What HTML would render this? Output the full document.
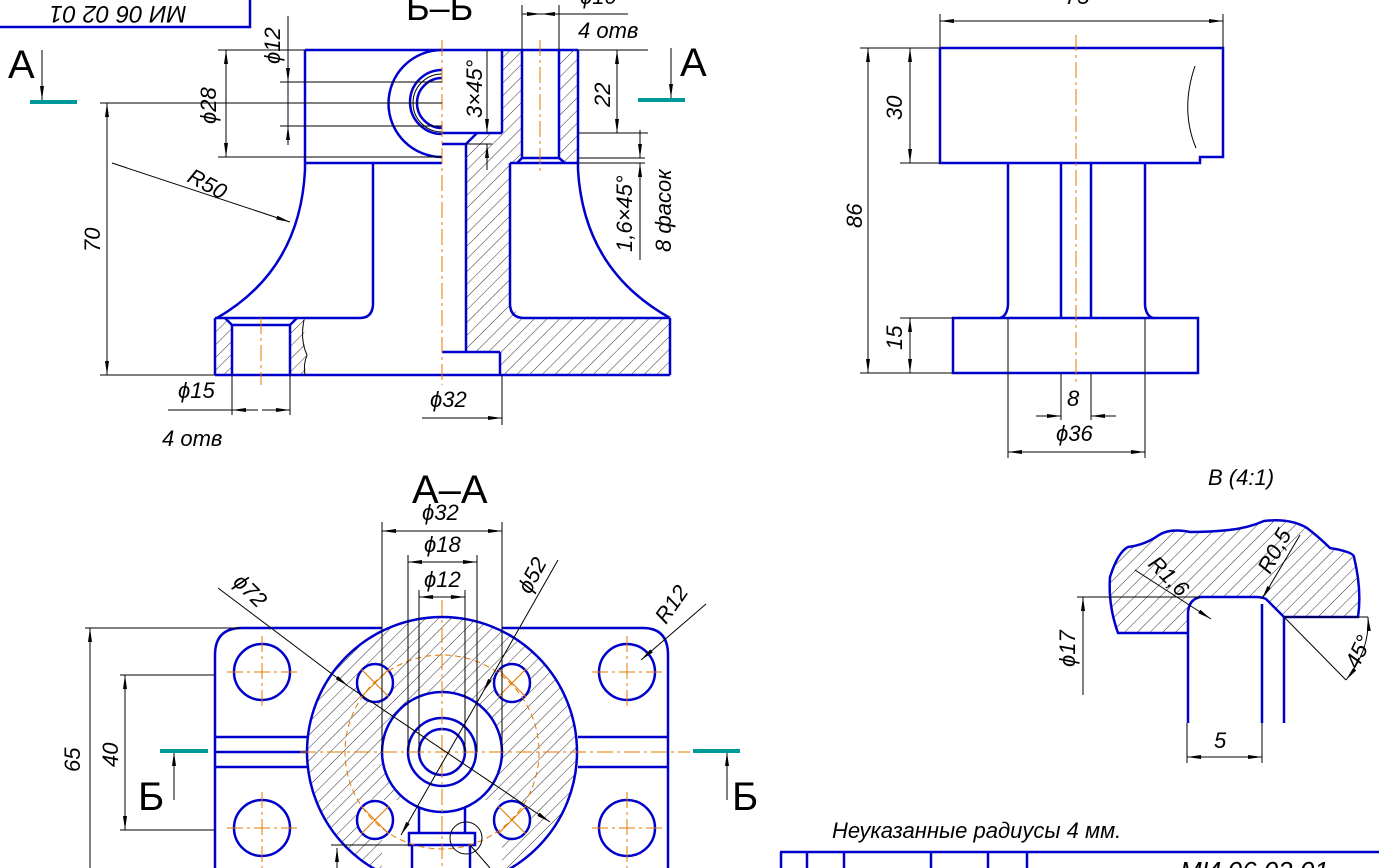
<!DOCTYPE html>
<html><head><meta charset="utf-8"><style>
html,body{margin:0;padding:0;background:#fff;width:1379px;height:868px;overflow:hidden}
svg{display:block}
text{font-family:"Liberation Sans",sans-serif;font-style:italic;fill:#000}
text.n{font-style:normal}
.b{fill:none;stroke:#0000cc;stroke-width:2.5}
.t{fill:none;stroke:#000;stroke-width:1}
.c{fill:none;stroke:#e07800;stroke-width:1;stroke-dasharray:16 4 3 4}
.h{fill:url(#hatch);stroke:none}
.tl{stroke:#009999;stroke-width:4}
</style></head><body>
<svg width="1379" height="868" viewBox="0 0 1379 868" xmlns="http://www.w3.org/2000/svg">
<defs>
<pattern id="hatch" patternUnits="userSpaceOnUse" width="9" height="9" patternTransform="rotate(45)">
<line x1="0" y1="0" x2="0" y2="9" stroke="#000" stroke-width="0.8"/>
</pattern>
<marker id="a" viewBox="0 0 14 4" refX="14" refY="2" markerWidth="14" markerHeight="4" orient="auto-start-reverse" markerUnits="userSpaceOnUse">
<path d="M0,0 L14,2 L0,4z" fill="#000"/></marker>
</defs>

<!-- stamp box -->
<polyline class="b" points="0,27 250,27 250,0"/>
<text x="118" y="6" font-size="24" text-anchor="middle" transform="rotate(180 118 6)">МИ 06 02 01</text>

<!-- Section markers A -->
<line class="tl" x1="30" y1="102" x2="77" y2="102"/>
<line class="tl" x1="638" y1="100" x2="685" y2="100"/>
<line class="t" x1="42" y1="50" x2="42" y2="100" marker-end="url(#a)"/>
<line class="t" x1="671" y1="48" x2="671" y2="98" marker-end="url(#a)"/>
<text class="n" x="8" y="78" font-size="40">A</text>
<text class="n" x="680" y="76" font-size="40">A</text>

<!-- ========== Section Б-Б ========== -->
<text class="n" x="406" y="20" font-size="36">Б–Б</text>
<polygon class="h" points="502,50 522,50 522,158 517,163 510,163 510,305 522,318 670,318 670,375 500,375 500,352 466,352 466,144 477,133 502,133"/>
<polygon class="h" points="559,50 578,50 578,163 565,163 559,158"/>
<polygon class="h" points="215,318 225,318 232,325 232,375 215,375"/>
<polygon class="h" points="297,318 305,318 304,340 307,360 305,375 290,375 290,325"/>
<g class="b">
<line x1="305" y1="50" x2="578" y2="50"/>
<line x1="305" y1="50" x2="305" y2="170"/>
<line x1="305" y1="163" x2="442" y2="163"/>
<path d="M305,170 Q300,270 217,318"/>
<line x1="373" y1="163" x2="373" y2="305"/>
<path d="M373,305 Q372,318 360,318"/>
<line x1="215" y1="318" x2="360" y2="318"/>
<line x1="215" y1="318" x2="215" y2="375"/>
<line x1="215" y1="375" x2="670" y2="375"/>
<line x1="225" y1="318" x2="232" y2="325"/><line x1="297" y1="318" x2="290" y2="325"/>
<line x1="232" y1="325" x2="290" y2="325"/>
<line x1="232" y1="325" x2="232" y2="375"/><line x1="290" y1="325" x2="290" y2="375"/>
<path d="M442,50 A53,53 0 0 0 442,157"/>
<path d="M442,70 A32,32 0 0 0 442,134"/>
<path d="M442,78 A25,25 0 0 0 442,128"/>
<line x1="442" y1="133" x2="502" y2="133"/>
<line x1="502" y1="50" x2="502" y2="133"/>
<line x1="442" y1="144" x2="466" y2="144"/>
<line x1="466" y1="144" x2="477" y2="133"/>
<line x1="466" y1="144" x2="466" y2="352"/>
<line x1="442" y1="352" x2="500" y2="352"/><line x1="500" y1="352" x2="500" y2="375"/>
<line x1="522" y1="50" x2="522" y2="158"/><line x1="559" y1="50" x2="559" y2="158"/>
<line x1="522" y1="158" x2="559" y2="158"/>
<line x1="522" y1="158" x2="517" y2="163"/><line x1="559" y1="158" x2="565" y2="163"/>
<line x1="510" y1="163" x2="578" y2="163"/>
<line x1="578" y1="50" x2="578" y2="170"/>
<path d="M578,170 Q584,270 670,318"/>
<line x1="510" y1="163" x2="510" y2="305"/>
<path d="M510,305 Q511,318 524,318"/>
<line x1="524" y1="318" x2="670" y2="318"/>
<line x1="670" y1="318" x2="670" y2="375"/>
</g>
<path class="t" d="M304,320 Q300,340 307,355 Q303,365 305,375" fill="none"/>
<path class="t" d="M442,74 A29,29 0 0 0 442,132"/>
<line class="c" x1="442" y1="40" x2="442" y2="385"/>
<line class="c" x1="261" y1="318" x2="261" y2="385"/>
<line class="c" x1="540" y1="40" x2="540" y2="175"/>
<!-- dims Б-Б -->
<g class="t">
<line x1="100" y1="103" x2="442" y2="103"/>
<line x1="100" y1="375" x2="215" y2="375"/>
<line x1="107" y1="103" x2="107" y2="375" marker-start="url(#a)" marker-end="url(#a)"/>
<line x1="218" y1="50" x2="305" y2="50"/>
<line x1="218" y1="157" x2="442" y2="157"/>
<line x1="226" y1="50" x2="226" y2="157" marker-start="url(#a)" marker-end="url(#a)"/>
<line x1="280" y1="82" x2="442" y2="82"/>
<line x1="280" y1="126" x2="442" y2="126"/>
<line x1="288" y1="16" x2="288" y2="82" marker-end="url(#a)"/>
<line x1="288" y1="126" x2="288" y2="145" marker-start="url(#a)"/>
<line x1="288" y1="82" x2="288" y2="126"/>
<line x1="112" y1="163" x2="290" y2="222" marker-end="url(#a)"/>
<line x1="487" y1="50" x2="487" y2="133" marker-end="url(#a)"/>
<line x1="487" y1="144" x2="487" y2="170" marker-start="url(#a)"/>
<line x1="492" y1="144" x2="466" y2="144"/>
<line x1="522" y1="5" x2="522" y2="50"/><line x1="559" y1="5" x2="559" y2="50"/>
<line x1="522" y1="14" x2="541" y2="14" marker-end="url(#a)"/>
<line x1="541" y1="14" x2="559" y2="14" marker-start="url(#a)"/>
<line x1="559" y1="14" x2="628" y2="14"/>
<line x1="578" y1="50" x2="648" y2="50"/>
<line x1="578" y1="133" x2="648" y2="133"/>
<line x1="617" y1="50" x2="617" y2="133" marker-start="url(#a)" marker-end="url(#a)"/>
<line x1="578" y1="158" x2="645" y2="158"/>
<line x1="578" y1="163" x2="645" y2="163"/>
<line x1="640" y1="130" x2="640" y2="158" marker-end="url(#a)"/>
<line x1="640" y1="163" x2="640" y2="260" marker-start="url(#a)"/>
<line x1="232" y1="375" x2="232" y2="415"/><line x1="290" y1="375" x2="290" y2="415"/>
<line x1="168" y1="410" x2="232" y2="410"/>
<line x1="232" y1="410" x2="258" y2="410" marker-start="url(#a)"/>
<line x1="262" y1="410" x2="290" y2="410" marker-end="url(#a)"/>
<line x1="502" y1="375" x2="502" y2="425"/>
<line x1="422" y1="418" x2="502" y2="418" marker-end="url(#a)"/>
</g>
<text x="0" y="0" font-size="22" transform="translate(100,252) rotate(-90)">70</text>
<text x="0" y="0" font-size="22" transform="translate(216,124) rotate(-90)">ϕ28</text>
<text x="0" y="0" font-size="22" transform="translate(280,64) rotate(-90)">ϕ12</text>
<text x="0" y="0" font-size="22" transform="translate(186,181) rotate(28)">R50</text>
<text x="0" y="0" font-size="22" transform="translate(482,118) rotate(-90)">3×45°</text>
<text x="0" y="0" font-size="22" transform="translate(610,107) rotate(-90)">22</text>
<text x="0" y="0" font-size="22" transform="translate(632,252) rotate(-90)">1,6×45°</text>
<text x="0" y="0" font-size="22" transform="translate(671,252) rotate(-90)">8 фасок</text>
<text x="578" y="38" font-size="22">4 отв</text>
<text x="580" y="4" font-size="22">ϕ10</text>
<text x="178" y="398" font-size="22">ϕ15</text>
<text x="162" y="446" font-size="22">4 отв</text>
<text x="430" y="407" font-size="22">ϕ32</text>

<!-- ========== Front view right ========== -->
<g class="b">
<polyline points="940,48 1223,48 1223,157 1200,157 1200,163 940,163 940,48"/>
<line x1="1008" y1="163" x2="1008" y2="305"/><path d="M1008,305 Q1007,316 1000,318"/>
<line x1="1145" y1="163" x2="1145" y2="305"/><path d="M1145,305 Q1146,316 1153,318"/>
<line x1="1061" y1="163" x2="1061" y2="318"/><line x1="1091" y1="163" x2="1091" y2="318"/>
<rect x="953" y="318" width="245" height="55"/>
</g>
<path class="t" d="M1195,66 Q1180,110 1196,148"/>
<line class="c" x1="1076" y1="35" x2="1076" y2="385"/>
<g class="t">
<line x1="940" y1="14" x2="940" y2="48"/><line x1="1223" y1="14" x2="1223" y2="48"/>
<line x1="940" y1="21" x2="1223" y2="21" marker-start="url(#a)" marker-end="url(#a)"/>
<line x1="860" y1="48" x2="940" y2="48"/><line x1="900" y1="163" x2="940" y2="163"/>
<line x1="860" y1="373" x2="953" y2="373"/><line x1="900" y1="318" x2="953" y2="318"/>
<line x1="868" y1="48" x2="868" y2="373" marker-start="url(#a)" marker-end="url(#a)"/>
<line x1="910" y1="48" x2="910" y2="163" marker-start="url(#a)" marker-end="url(#a)"/>
<line x1="910" y1="318" x2="910" y2="373" marker-start="url(#a)" marker-end="url(#a)"/>
<line x1="1008" y1="318" x2="1008" y2="458"/><line x1="1145" y1="318" x2="1145" y2="458"/>
<line x1="1061" y1="373" x2="1061" y2="420"/><line x1="1091" y1="373" x2="1091" y2="420"/>
<line x1="1036" y1="416" x2="1061" y2="416" marker-end="url(#a)"/>
<line x1="1116" y1="416" x2="1091" y2="416" marker-end="url(#a)"/>
<line x1="1008" y1="452" x2="1145" y2="452" marker-start="url(#a)" marker-end="url(#a)"/>
</g>
<text x="1065" y="4" font-size="22">75</text>
<text x="0" y="0" font-size="22" transform="translate(862,228) rotate(-90)">86</text>
<text x="0" y="0" font-size="22" transform="translate(902,120) rotate(-90)">30</text>
<text x="0" y="0" font-size="22" transform="translate(902,350) rotate(-90)">15</text>
<text x="1067" y="406" font-size="22">8</text>
<text x="1056" y="441" font-size="22">ϕ36</text>

<!-- ========== A-A ========== -->
<text class="n" x="412" y="503" font-size="40">A–A</text>
<path class="h" fill-rule="evenodd" d="M307,752 A135,135 0 1 0 577,752 A135,135 0 1 0 307,752Z M382,752 A60,60 0 1 1 502,752 A60,60 0 1 1 382,752Z M357,683 a18,19 0 1 0 36,0 a18,19 0 1 0 -36,0Z M494,683 a18,19 0 1 0 36,0 a18,19 0 1 0 -36,0Z M357,820 a18,19 0 1 0 36,0 a18,19 0 1 0 -36,0Z M494,820 a18,19 0 1 0 36,0 a18,19 0 1 0 -36,0Z"/>
<rect x="382" y="800" width="120" height="68" fill="#fff"/>
<g class="b">
<path d="M215,868 L215,655 Q215,628 242,628 L382,628"/>
<path d="M502,628 L643,628 Q668,628 668,655 L668,868"/>
<circle cx="442" cy="752" r="135"/>
<circle cx="442" cy="752" r="60"/>
<circle cx="442" cy="752" r="34"/>
<circle cx="442" cy="752" r="23"/>
<ellipse cx="375" cy="683" rx="18" ry="19"/><ellipse cx="512" cy="683" rx="18" ry="19"/>
<ellipse cx="375" cy="820" rx="18" ry="19"/><ellipse cx="512" cy="820" rx="18" ry="19"/>
<circle cx="262" cy="672" r="28"/><circle cx="627" cy="672" r="28"/>
<circle cx="262" cy="828" r="28"/><circle cx="627" cy="828" r="28"/>
<line x1="215" y1="737" x2="307" y2="737"/><line x1="215" y1="767" x2="307" y2="767"/>
<line x1="215" y1="752" x2="307" y2="752"/>
<line x1="578" y1="737" x2="668" y2="737"/><line x1="578" y1="767" x2="668" y2="767"/>
<line x1="419" y1="808" x2="419" y2="833"/><line x1="465" y1="808" x2="465" y2="833"/>
<rect x="409" y="833" width="66" height="12"/>
<line x1="412" y1="845" x2="412" y2="868"/><line x1="470" y1="845" x2="470" y2="868"/>
</g>
<circle cx="442" cy="752" r="97" fill="none" stroke="#e07800" stroke-width="1" stroke-dasharray="6 4"/>
<g class="c">
<line x1="300" y1="752" x2="690" y2="752"/>
<line x1="442" y1="600" x2="442" y2="868"/>
<line x1="227" y1="672" x2="297" y2="672"/><line x1="262" y1="636" x2="262" y2="708"/>
<line x1="592" y1="672" x2="662" y2="672"/><line x1="627" y1="636" x2="627" y2="708"/>
<line x1="227" y1="828" x2="297" y2="828"/><line x1="262" y1="792" x2="262" y2="868"/>
<line x1="592" y1="828" x2="662" y2="828"/><line x1="627" y1="792" x2="627" y2="868"/>
</g>
<g stroke="#e07800" stroke-width="1">
<line x1="361" y1="669" x2="389" y2="697"/><line x1="389" y1="669" x2="361" y2="697"/>
<line x1="498" y1="669" x2="526" y2="697"/><line x1="526" y1="669" x2="498" y2="697"/>
<line x1="361" y1="806" x2="389" y2="834"/><line x1="389" y1="806" x2="361" y2="834"/>
<line x1="498" y1="806" x2="526" y2="834"/><line x1="526" y1="806" x2="498" y2="834"/>
</g>
<circle cx="466" cy="838" r="16" fill="none" stroke="#000" stroke-width="1"/>
<g class="t">
<line x1="382" y1="522" x2="382" y2="752"/><line x1="502" y1="522" x2="502" y2="752"/>
<line x1="382" y1="531" x2="502" y2="531" marker-start="url(#a)" marker-end="url(#a)"/>
<line x1="408" y1="555" x2="408" y2="752"/><line x1="477" y1="555" x2="477" y2="752"/>
<line x1="408" y1="562" x2="477" y2="562" marker-start="url(#a)" marker-end="url(#a)"/>
<line x1="419" y1="590" x2="419" y2="752"/><line x1="465" y1="590" x2="465" y2="752"/>
<line x1="419" y1="597" x2="442" y2="597" marker-start="url(#a)"/>
<line x1="442" y1="597" x2="465" y2="597" marker-end="url(#a)"/>
<line x1="218" y1="588" x2="348" y2="686" marker-end="url(#a)"/>
<line x1="348" y1="686" x2="550" y2="822" marker-end="url(#a)"/>
<line x1="558" y1="560" x2="483" y2="692" marker-end="url(#a)"/>
<line x1="483" y1="692" x2="401" y2="835" marker-end="url(#a)"/>
<line x1="706" y1="604" x2="641" y2="660" marker-end="url(#a)"/>
<line x1="85" y1="628" x2="240" y2="628"/>
<line x1="90" y1="628" x2="90" y2="868" marker-start="url(#a)"/>
<line x1="120" y1="675" x2="215" y2="675"/><line x1="120" y1="830" x2="215" y2="830"/>
<line x1="125" y1="675" x2="125" y2="830" marker-start="url(#a)" marker-end="url(#a)"/>
<line x1="331" y1="845" x2="409" y2="845"/>
<line x1="337" y1="868" x2="337" y2="848" marker-end="url(#a)"/>
<line x1="470" y1="845" x2="490" y2="868"/>
<line x1="174" y1="800" x2="174" y2="752" marker-end="url(#a)"/>
<line x1="727" y1="800" x2="727" y2="752" marker-end="url(#a)"/>
</g>
<text x="422" y="520" font-size="22">ϕ32</text>
<text x="424" y="552" font-size="22">ϕ18</text>
<text x="424" y="587" font-size="22">ϕ12</text>
<text x="0" y="0" font-size="22" transform="translate(232,583) rotate(45)">ϕ72</text>
<text x="0" y="0" font-size="22" transform="translate(530,595) rotate(-62)">ϕ52</text>
<text x="0" y="0" font-size="22" transform="translate(666,625) rotate(-55)">R12</text>
<text x="0" y="0" font-size="22" transform="translate(80,772) rotate(-90)">65</text>
<text x="0" y="0" font-size="22" transform="translate(118,767) rotate(-90)">40</text>
<line class="tl" x1="160" y1="751" x2="208" y2="751"/>
<line class="tl" x1="693" y1="751" x2="740" y2="751"/>
<text class="n" x="138" y="810" font-size="40">Б</text>
<text class="n" x="732" y="810" font-size="40">Б</text>

<!-- ========== Detail B ========== -->
<text x="1208" y="485" font-size="22">В (4:1)</text>
<path class="h" d="M1110,577 Q1118,552 1128,547 Q1145,545 1159,535 Q1170,528 1190,532 Q1210,532 1229,530 Q1248,528 1264,521 Q1290,518 1307,528 Q1320,538 1330,548 Q1354,552 1354,557 Q1362,590 1358,617 L1284,617 L1266,597 L1200,597 Q1188,600 1188,614 L1188,633 L1118,633 Q1108,605 1110,577Z"/>
<g class="b">
<path d="M1188,633 L1118,633 Q1108,605 1110,577 Q1118,552 1128,547 Q1145,545 1159,535 Q1170,528 1190,532 Q1210,532 1229,530 Q1248,528 1264,521 Q1290,518 1307,528 Q1320,538 1330,548 Q1354,552 1354,557 Q1362,590 1358,617 L1284,617 L1266,599 Q1262,597 1256,597 L1200,597 Q1188,600 1188,614 L1188,723"/>
<line x1="1262" y1="604" x2="1262" y2="723"/>
<line x1="1284" y1="617" x2="1284" y2="723"/>
</g>
<g class="t">
<line x1="1077" y1="597" x2="1200" y2="597"/>
<line x1="1284" y1="617" x2="1368" y2="617"/>
<line x1="1083" y1="695" x2="1083" y2="597" marker-end="url(#a)"/>
<line x1="1135" y1="570" x2="1211" y2="619" marker-end="url(#a)"/>
<line x1="1300" y1="535" x2="1262" y2="599" marker-end="url(#a)"/>
<line x1="1284" y1="617" x2="1346" y2="680"/>
<path d="M1346,680 Q1370,650 1368,617" marker-start="url(#a)" marker-end="url(#a)"/>
<line x1="1187" y1="723" x2="1187" y2="763"/><line x1="1262" y1="723" x2="1262" y2="763"/>
<line x1="1187" y1="757" x2="1262" y2="757" marker-start="url(#a)" marker-end="url(#a)"/>
</g>
<text x="0" y="0" font-size="22" transform="translate(1075,667) rotate(-90)">ϕ17</text>
<text x="0" y="0" font-size="22" transform="translate(1147,565) rotate(45)">R1,6</text>
<text x="0" y="0" font-size="22" transform="translate(1270,575) rotate(-62)">R0,5</text>
<text x="0" y="0" font-size="22" transform="translate(1358,670) rotate(-65)">45°</text>
<text x="1214" y="748" font-size="22">5</text>

<!-- notes & title block -->
<text x="832" y="838" font-size="22">Неуказанные радиусы 4 мм.</text>
<g class="b">
<line x1="780" y1="852" x2="1379" y2="852"/>
<line x1="781" y1="852" x2="781" y2="868"/><line x1="807" y1="852" x2="807" y2="868"/>
<line x1="844" y1="852" x2="844" y2="868"/><line x1="931" y1="852" x2="931" y2="868"/>
<line x1="988" y1="852" x2="988" y2="868"/><line x1="1027" y1="852" x2="1027" y2="868"/>
</g>
<text x="1180" y="880" font-size="26">МИ 06 02 01</text>
</svg>
</body></html>
